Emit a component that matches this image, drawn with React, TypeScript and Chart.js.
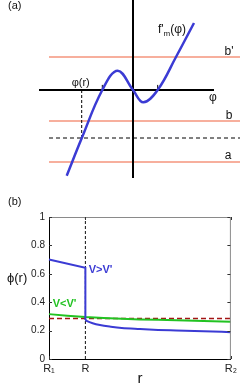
import React, { useEffect, useRef } from "react";
import { Chart, registerables } from "chart.js";
Chart.register(...registerables);

// ---------- Panel (a) data ----------
const curvePhi = [-2.21, -1.71, -1.023, -0.51, 0, 0.343, 0.823, 1.433, 2.033];
const curveF = [-2.857, -1.61, 0, 0.643, 0, -0.41, 0, 1.1, 2.233];
const phiAxisRange = [-3.133, 2.7];
const fAxisRange = [3.1, -2.933];
const levelRange = [-2.8, 3.7];
const levelBPrime = 1.1;
const levelB = -1.033;
const levelA = -2.4;
const levelDashed = -1.6;
const phiR = -1.71;
const roots = [-1.023, 0.823];

// ---------- Panel (b) data ----------
const rTickValues = [1, 2, 6];
const rTickLabels = ["R\u2081", "R", "R\u2082"];
const phiTickValues = [0, 0.2, 0.4, 0.6, 0.8, 1];
const phiTickLabels = ["0", "0.2", "0.4", "0.6", "0.8", "1"];
const blueUpperR = [1, 2, 2];
const blueUpperV = [0.7, 0.642, 0.275];
const blueLowerR = [2, 2.05, 2.2, 2.4, 2.7, 3, 3.5, 4, 4.5, 5, 5.5, 6];
const blueLowerV = [0.275, 0.267, 0.252, 0.239, 0.227, 0.218, 0.211, 0.205, 0.201, 0.197, 0.193, 0.189];
const greenR = [1, 1.5, 2, 2.5, 3, 3.5, 4, 4.5, 5, 5.5, 6];
const greenV = [0.316, 0.305, 0.295, 0.288, 0.283, 0.279, 0.276, 0.273, 0.27, 0.266, 0.263];
const thresholdV = 0.286;
const dividerR = 2;

const FONT = "'Liberation Sans', Arial, sans-serif";
const BLUE = "#3b3bd4";
const SALMON = "#f5957d";

const pts = (xs: number[], ys: number[]) => xs.map((x, i) => ({ x, y: ys[i] }));

function lineDs(data: any[], color: string, width: number, extra: any = {}) {
  return { data, borderColor: color, borderWidth: width, showLine: true, pointRadius: 0, fill: false, clip: false, ...extra };
}

export default function App() {
  const refA = useRef<HTMLCanvasElement>(null);
  const refB = useRef<HTMLCanvasElement>(null);

  useEffect(() => {
    const labelsA = {
      id: "labelsA",
      afterDatasetsDraw(chart: any) {
        const { ctx, scales } = chart;
        const X = (v: number) => scales.x.getPixelForValue(v);
        const Y = (v: number) => scales.y.getPixelForValue(v);
        ctx.save();
        ctx.fillStyle = "#111";
        ctx.textBaseline = "middle";
        ctx.textAlign = "left";
        ctx.font = `11px ${FONT}`;
        ctx.fillText("(a)", 8, 6);
        ctx.textAlign = "center";
        ctx.font = `12px ${FONT}`;
        ctx.fillText("b'", X(3.2), Y(levelBPrime) - 5);
        ctx.fillText("b", X(3.2), Y(levelB) - 5);
        ctx.fillText("a", X(3.17), Y(levelA) - 6);
        ctx.fillText("\u03c6", X(2.667), Y(0) + 8);
        ctx.font = `11px ${FONT}`;
        ctx.fillText("\u03c6(r)", X(phiR) - 1, Y(0) - 7);
        // f'm(φ)
        ctx.textAlign = "left";
        ctx.font = `12px ${FONT}`;
        let x = X(0.833);
        const yb = Y(2.0);
        ctx.fillText("f'", x, yb);
        x += ctx.measureText("f'").width;
        ctx.font = `8px ${FONT}`;
        ctx.fillText("m", x, yb + 4);
        x += ctx.measureText("m").width;
        ctx.font = `12px ${FONT}`;
        ctx.fillText("(\u03c6)", x, yb);
        ctx.restore();
      },
    };

    const a = new Chart(refA.current!, {
      type: "scatter",
      data: {
        datasets: [
          lineDs(pts(curvePhi, curveF), BLUE, 2.5, { tension: 0.4 }),
          lineDs(pts(phiAxisRange, [0, 0]), "#000", 2),
          lineDs(pts([0, 0], fAxisRange), "#000", 2),
          ...roots.map((r) => lineDs(pts([r, r], [0, 0.17]), "#000", 1)),
          lineDs(pts([phiR, phiR], [0, levelDashed]), "#000", 1, { borderDash: [3, 2] }),
          lineDs(pts(levelRange, [levelDashed, levelDashed]), "#000", 1, { borderDash: [4, 3] }),
          lineDs(pts(levelRange, [levelBPrime, levelBPrime]), SALMON, 1.5),
          lineDs(pts(levelRange, [levelB, levelB]), SALMON, 1.5),
          lineDs(pts(levelRange, [levelA, levelA]), SALMON, 1.5),
        ],
      },
      options: {
        animation: false,
        responsive: true,
        maintainAspectRatio: false,
        layout: { padding: 0 },
        plugins: { legend: { display: false }, tooltip: { enabled: false } },
        scales: {
          x: { type: "linear", display: false, min: -133 / 30, max: 107 / 30 },
          y: { type: "linear", display: false, min: -105 / 30, max: 3 },
        },
      } as any,
      plugins: [labelsA],
    } as any);

    const decorB = {
      id: "decorB",
      afterDatasetsDraw(chart: any) {
        const { ctx, scales, chartArea } = chart;
        const X = (v: number) => scales.x.getPixelForValue(v);
        const Y = (v: number) => scales.y.getPixelForValue(v);
        const { left, right, top, bottom } = chartArea;
        ctx.save();
        ctx.strokeStyle = "#8a8a8a";
        ctx.lineWidth = 1;
        ctx.beginPath();
        ctx.moveTo(left, top + 0.5);
        ctx.lineTo(right - 0.5, top + 0.5);
        ctx.lineTo(right - 0.5, bottom);
        ctx.stroke();
        ctx.strokeStyle = "#333";
        ctx.beginPath();
        phiTickValues.forEach((v) => {
          const y = Math.round(Y(v)) + 0.5;
          ctx.moveTo(left, y);
          ctx.lineTo(left + 3, y);
          ctx.moveTo(right - 0.5, y);
          ctx.lineTo(right - 3.5, y);
        });
        rTickValues.forEach((v) => {
          const x = Math.round(X(v)) + 0.5;
          ctx.moveTo(x, bottom);
          ctx.lineTo(x, bottom - 3);
          ctx.moveTo(x, top);
          ctx.lineTo(x, top + 3);
        });
        ctx.stroke();
        ctx.textBaseline = "middle";
        ctx.textAlign = "left";
        ctx.fillStyle = "#111";
        ctx.font = `11px ${FONT}`;
        ctx.fillText("(b)", 8, 7);
        ctx.font = `13px ${FONT}`;
        ctx.fillText("\u03d5(r)", left - 42, Y(0.57));
        ctx.font = `bold 11px ${FONT}`;
        ctx.fillStyle = BLUE;
        ctx.fillText("V>V'", X(2.09), Y(0.625));
        ctx.fillStyle = "#22c322";
        ctx.fillText("V<V'", X(1.1), Y(0.39));
        ctx.restore();
      },
    };

    const b = new Chart(refB.current!, {
      type: "scatter",
      data: {
        datasets: [
          lineDs(pts(blueUpperR, blueUpperV), BLUE, 2),
          lineDs(pts(blueLowerR, blueLowerV), BLUE, 2, { cubicInterpolationMode: "monotone" }),
          lineDs(pts(greenR, greenV), "#22c322", 2),
          lineDs(pts([1, 6], [thresholdV, thresholdV]), "#a31515", 1.5, { borderDash: [5, 3] }),
          lineDs(pts([dividerR, dividerR], [0, 1]), "#111", 1, { borderDash: [3, 2] }),
        ],
      },
      options: {
        animation: false,
        responsive: true,
        maintainAspectRatio: false,
        layout: { padding: { top: 22, right: 4, left: 0, bottom: 0 } },
        plugins: { legend: { display: false }, tooltip: { enabled: false } },
        scales: {
          x: {
            type: "linear",
            min: 1,
            max: 6,
            afterBuildTicks: (s: any) => {
              s.ticks = rTickValues.map((v) => ({ value: v }));
            },
            afterFit: (s: any) => {
              s.height = 30;
            },
            ticks: {
              autoSkip: false,
              maxRotation: 0,
              padding: 3,
              color: "#222",
              font: { family: FONT, size: 11 },
              callback: (v: number) => rTickLabels[rTickValues.indexOf(v)] ?? "",
            },
            grid: { display: false, drawTicks: false },
            border: { display: true, color: "#000", width: 1 },
            title: { display: true, text: "r", color: "#111", font: { family: FONT, size: 15 }, padding: { top: 0, bottom: 1 } },
          },
          y: {
            type: "linear",
            min: 0,
            max: 1,
            afterBuildTicks: (s: any) => {
              s.ticks = phiTickValues.map((v) => ({ value: v }));
            },
            afterFit: (s: any) => {
              s.width = 49;
            },
            ticks: {
              padding: 4,
              color: "#222",
              font: { family: FONT, size: 10 },
              callback: (v: number) => phiTickLabels[phiTickValues.indexOf(v)] ?? "",
            },
            grid: { display: false, drawTicks: false },
            border: { display: true, color: "#000", width: 1 },
          },
        },
      } as any,
      plugins: [decorB],
    } as any);

    return () => {
      a.destroy();
      b.destroy();
    };
  }, []);

  return (
    <div style={{ position: "absolute", left: 0, top: 0, width: 240, height: 389, background: "#fff" }}>
      <div style={{ position: "absolute", left: 0, top: 0, width: 240, height: 195 }}>
        <canvas ref={refA} />
      </div>
      <div style={{ position: "absolute", left: 0, top: 195, width: 240, height: 194 }}>
        <canvas ref={refB} />
      </div>
    </div>
  );
}
